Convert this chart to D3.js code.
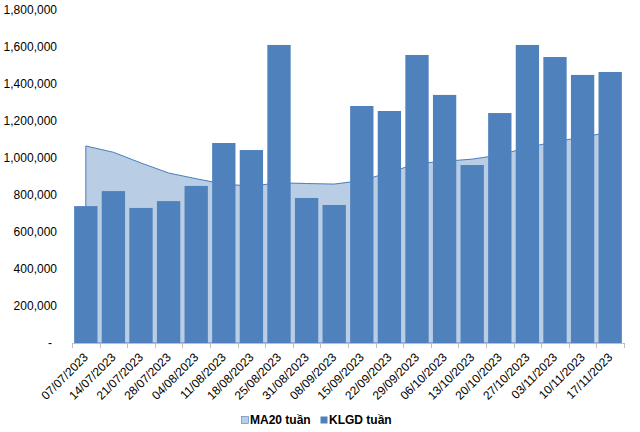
<!DOCTYPE html>
<html>
<head>
<meta charset="utf-8">
<script src="https://cdn.jsdelivr.net/npm/d3@7"></script>
<style>
  body { margin: 0; background: #fff; }
  text { font-family: "Liberation Sans", Arial, sans-serif; }
</style>
</head>
<body>
<script>
var width = 640,
    height = 432;

// weeks
var weeks = ["07/07/2023", "14/07/2023", "21/07/2023", "28/07/2023", "04/08/2023",
  "11/08/2023", "18/08/2023", "25/08/2023", "31/08/2023", "08/09/2023",
  "15/09/2023", "22/09/2023", "29/09/2023", "06/10/2023", "13/10/2023",
  "20/10/2023", "27/10/2023", "03/11/2023", "10/11/2023", "17/11/2023"];

// KLGD tuan (bars)
var klgd = [740000, 821000, 730000, 767000, 849000,
  1081000, 1043000, 1611000, 784000, 746000,
  1281000, 1254000, 1557000, 1341000, 962000,
  1243000, 1611000, 1546000, 1449000, 1465000];

// MA20 tuan (area)
var ma20 = [1065000, 1031000, 973000, 919000, 888000,
  859000, 848000, 866000, 862000, 859000,
  878000, 922000, 970000, 982000, 994000,
  1016000, 1057000, 1088000, 1113000, 1140000];

var yTicks = [0, 200000, 400000, 600000, 800000, 1000000, 1200000, 1400000, 1600000, 1800000];

var barColor = "#4F81BD",
    areaColor = "#B9CDE5";

var svg = d3.select("body").append("svg")
    .attr("width", width)
    .attr("height", height);

var x = d3.scaleBand()
    .domain(weeks)
    .range([72, 624])
    .paddingInner(0.155)
    .paddingOuter(0.0775);

var y = d3.scaleLinear()
    .domain([0, 1800000])
    .range([343, 10]);

var fmt = d3.format(",");

// y labels
svg.selectAll(".ylab")
  .data(yTicks)
  .enter().append("text")
    .attr("class", "ylab")
    .attr("x", function(d){ return d === 0 ? 52 : 57; })
    .attr("y", function(d){ return y(d); })
    .attr("dy", "0.35em")
    .attr("text-anchor", "end")
    .attr("font-size", 12)
    .attr("fill", "#000")
    .text(function(d){ return d === 0 ? "-" : fmt(d); });

// MA20 area
var area = d3.area()
    .x(function(d, i){ return x(weeks[i]) + x.bandwidth() / 2; })
    .y0(y(0))
    .y1(function(d){ return y(d); });

svg.append("path")
    .datum(ma20)
    .attr("d", area)
    .attr("fill", areaColor)
    .attr("stroke", "#4A7EBB")
    .attr("stroke-width", 1);

// bars
svg.selectAll(".bar")
  .data(klgd)
  .enter().append("rect")
    .attr("class", "bar")
    .attr("x", function(d, i){ return x(weeks[i]); })
    .attr("y", function(d){ return y(d); })
    .attr("width", x.bandwidth())
    .attr("height", function(d){ return y(0) - y(d); })
    .attr("fill", barColor);

// x axis line + ticks at band edges
var step = x.step();
var x0 = x.range()[0];
svg.append("line")
    .attr("x1", x0).attr("x2", x.range()[1])
    .attr("y1", 343.5).attr("y2", 343.5)
    .attr("stroke", "#BFBFBF");

svg.selectAll(".tick")
  .data(d3.range(weeks.length + 1))
  .enter().append("line")
    .attr("x1", function(i){ return Math.round(x0 + i * step) + 0.5; })
    .attr("x2", function(i){ return Math.round(x0 + i * step) + 0.5; })
    .attr("y1", 343).attr("y2", 348)
    .attr("stroke", "#BFBFBF");

// x labels
svg.selectAll(".xlab")
  .data(weeks)
  .enter().append("text")
    .attr("class", "xlab")
    .attr("text-anchor", "end")
    .attr("font-size", 12)
    .attr("fill", "#000")
    .attr("transform", function(d){
      return "translate(" + (x(d) + x.bandwidth() / 2 + 3) + ",358) rotate(-45)";
    })
    .text(function(d){ return d; });

// legend
var legend = [
  {name: "MA20 tuần", color: areaColor, x: 241},
  {name: "KLGD tuần", color: barColor, x: 320}
];
var lg = svg.selectAll(".lg")
  .data(legend)
  .enter().append("g")
    .attr("transform", function(d){ return "translate(" + d.x + ",420)"; });
lg.append("rect")
    .attr("x", 0.5).attr("y", -3.5)
    .attr("width", 7).attr("height", 7)
    .attr("fill", function(d){ return d.color; })
    .attr("stroke", function(d, i){ return i === 0 ? "#4A7EBB" : "none"; })
    .attr("stroke-width", 0.6);
lg.append("text")
    .attr("x", 9)
    .attr("dy", "0.35em")
    .attr("font-size", 12)
    .attr("font-weight", "bold")
    .attr("fill", "#000")
    .text(function(d){ return d.name; });
</script>
</body>
</html>
